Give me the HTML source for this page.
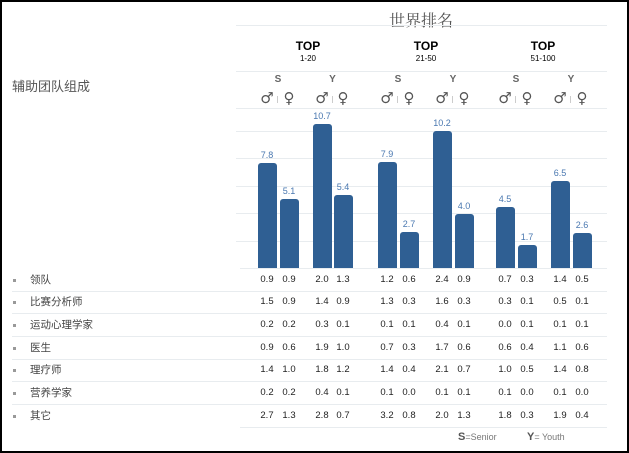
<!DOCTYPE html>
<html><head><meta charset="utf-8"><style>
body{margin:0;width:629px;height:453px;overflow:hidden;background:#fff;font-family:"Liberation Sans","Noto Sans CJK SC",sans-serif;}
#f{position:absolute;left:0;top:0;width:625px;height:449px;border:2px solid #000;}
.a{position:absolute;}
.g{position:absolute;height:1px;background:#e8ecef;}
.bar{position:absolute;width:19px;background:#2f5f93;border-radius:3px 3px 0 0;}
.bl{position:absolute;width:30px;text-align:center;font-size:9px;color:#4a78b0;}
.v{position:absolute;width:24px;text-align:center;font-size:9.5px;color:#222;}
.lab{position:absolute;left:30px;font-size:10.5px;color:#444;}
.dot{position:absolute;left:13px;width:3px;height:3px;background:#999;}
.sym{position:absolute;font-size:15px;color:#555;width:20px;text-align:center;font-family:"DejaVu Sans",sans-serif;}
</style></head><body><div id="f"></div>
<div class="a" style="left:389px;top:8px;font-size:16px;color:#555;font-family:'Noto Serif CJK SC',serif">世界排名</div>
<div class="g" style="left:236px;top:25px;width:371px"></div>
<div class="g" style="left:236px;top:71px;width:371px"></div>
<div class="g" style="left:236px;top:108px;width:371px"></div>
<div class="g" style="left:236px;top:131px;width:371px"></div>
<div class="g" style="left:236px;top:158px;width:371px"></div>
<div class="g" style="left:236px;top:186px;width:371px"></div>
<div class="g" style="left:236px;top:213px;width:371px"></div>
<div class="g" style="left:236px;top:241px;width:371px"></div>
<div class="g" style="left:240px;top:268px;width:367px"></div>
<div class="a" style="left:278px;top:39px;width:60px;text-align:center;font-weight:bold;font-size:12px">TOP<div style="font-size:8px;font-weight:normal;margin-top:1px">1-20</div></div>
<div class="a" style="left:396px;top:39px;width:60px;text-align:center;font-weight:bold;font-size:12px">TOP<div style="font-size:8px;font-weight:normal;margin-top:1px">21-50</div></div>
<div class="a" style="left:513px;top:39px;width:60px;text-align:center;font-weight:bold;font-size:12px">TOP<div style="font-size:8px;font-weight:normal;margin-top:1px">51-100</div></div>
<div class="a" style="left:12px;top:76px;font-size:13px;color:#555">辅助团队组成</div>
<div id="bars"></div>
<div class="g" style="left:240px;top:427px;width:367px"></div>
<div class="a" style="left:458px;top:431px;font-size:9px;color:#777"><b style="font-size:11px;color:#555">S</b>=Senior</div>
<div class="a" style="left:527px;top:431px;font-size:9px;color:#777"><b style="font-size:11px;color:#555">Y</b>= Youth</div>
<script>
var xs=[267,289,322,343,387,409,442,464,505,527,560,582];
var h=[7.8,5.1,10.7,5.4,7.9,2.7,10.2,4.0,4.5,1.7,6.5,2.6];
var s='';
for(var i=0;i<12;i++){var t=268-h[i]*13.45;
s+='<div class="bar" style="left:'+(xs[i]-9.5)+'px;top:'+t+'px;height:'+(268-t)+'px"></div>';
s+='<div class="bl" style="left:'+(xs[i]-15)+'px;top:'+(t-13)+'px">'+h[i].toFixed(1)+'</div>';
s+='<div class="sym" style="left:'+(xs[i]-10)+'px;top:89px">'+(i%2?'♀':'♂')+'</div>';
if(i%2==0){var c=(xs[i]+xs[i+1])/2;s+='<div class="a" style="left:'+(c-10)+'px;top:74px;width:20px;text-align:center;font-size:10px;font-weight:bold;color:#666">'+(i%4?'Y':'S')+'</div>';
s+='<div class="a" style="left:'+(c-1)+'px;top:96px;width:1px;height:7px;background:#ccc"></div>';}}
var labs=['领队','比赛分析师','运动心理学家','医生','理疗师','营养学家','其它'];
var d=[[0.9,0.9,2.0,1.3,1.2,0.6,2.4,0.9,0.7,0.3,1.4,0.5],[1.5,0.9,1.4,0.9,1.3,0.3,1.6,0.3,0.3,0.1,0.5,0.1],[0.2,0.2,0.3,0.1,0.1,0.1,0.4,0.1,0.0,0.1,0.1,0.1],[0.9,0.6,1.9,1.0,0.7,0.3,1.7,0.6,0.6,0.4,1.1,0.6],[1.4,1.0,1.8,1.2,1.4,0.4,2.1,0.7,1.0,0.5,1.4,0.8],[0.2,0.2,0.4,0.1,0.1,0.0,0.1,0.1,0.1,0.0,0.1,0.0],[2.7,1.3,2.8,0.7,3.2,0.8,2.0,1.3,1.8,0.3,1.9,0.4]];
var ys=[280,302,325,348,370,393,416];
for(var r=0;r<7;r++){var y=ys[r];
s+='<div class="dot" style="top:'+(y-1)+'px"></div><div class="lab" style="top:'+(y-8)+'px">'+labs[r]+'</div>';
if(r<6)s+='<div class="g" style="left:12px;top:'+(y+11)+'px;width:595px"></div>';
for(var i=0;i<12;i++)s+='<div class="v" style="left:'+(xs[i]-12)+'px;top:'+(y-6)+'px">'+d[r][i].toFixed(1)+'</div>';}
document.getElementById('bars').innerHTML=s;
</script>
</body></html>
